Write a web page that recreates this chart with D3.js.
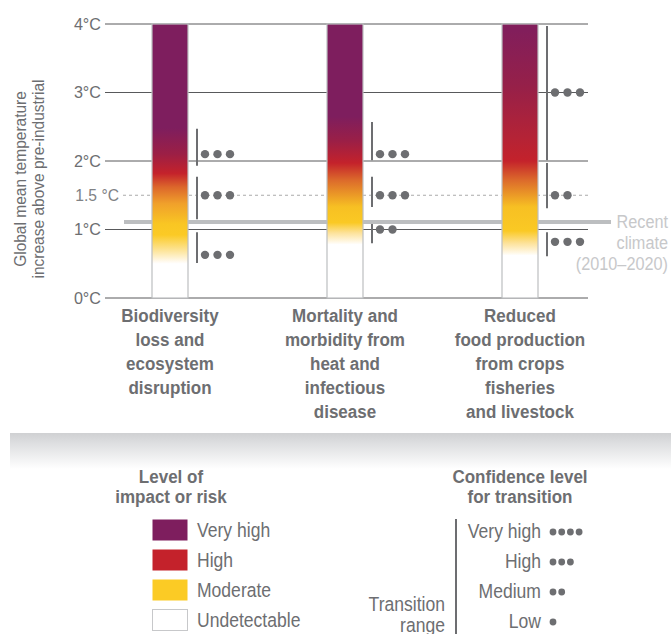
<!DOCTYPE html>
<html>
<head>
<meta charset="utf-8">
<script src="https://cdn.jsdelivr.net/npm/d3@7"></script>
<style>
  body { margin: 0; background: #fff; }
  svg { display: block; font-family: "Liberation Sans", Arial, sans-serif; }
</style>
</head>
<body>
<svg id="chart" width="671" height="634"></svg>
<script>
const W = 671
const H = 634
const TEXT = '#6d6e71'

// data
const categories = [
  ['Biodiversity', 'loss and', 'ecosystem', 'disruption'],
  ['Mortality and', 'morbidity from', 'heat and', 'infectious', 'disease'],
  ['Reduced', 'food production', 'from crops', 'fisheries', 'and livestock'],
]
const ticks = [0, 1, 2, 3, 4]
const tickLabels = ['0°C', '1°C', '2°C', '3°C', '4°C']
const PARIS = 1.5
const RECENT = 1.11

// colour stops [temperature, colour] per bar
const barStops = [
  [[0.5, '#ffffff'], [0.53, '#fffaf0'], [0.68, '#fde6a0'], [0.92, '#fbca25'], [1.08, '#f9c623'],
   [1.38, '#f0a02b'], [1.62, '#dc662b'], [1.82, '#c4222b'], [2.1, '#9c1f45'], [2.48, '#7e1e5e'], [4, '#7e1e5e']],
  [[0.78, '#ffffff'], [0.82, '#fff8e6'], [0.95, '#fde29a'], [1.1, '#fac924'], [1.33, '#f7c023'],
   [1.72, '#dc6a2b'], [1.97, '#c4222b'], [2.3, '#9a1f47'], [2.65, '#7e1e5e'], [4, '#7e1e5e']],
  [[0.62, '#ffffff'], [0.66, '#fff8e6'], [0.8, '#fde29a'], [0.98, '#fac924'], [1.33, '#f7c023'],
   [1.72, '#dc6a2b'], [2.0, '#c4222b'], [2.35, '#b42336'], [3.1, '#962049'], [3.9, '#821e5b'], [4, '#821e5b']],
]

// transition ranges: [bar, from, to, dotTemp, dots]
const transitions = [
  [0, 1.93, 2.47, 2.1, 3], [0, 1.15, 1.77, 1.5, 3], [0, 0.51, 0.96, 0.63, 3],
  [1, 2.01, 2.57, 2.1, 3], [1, 1.33, 1.77, 1.5, 3], [1, 0.80, 1.08, 1.0, 2],
  [2, 2.01, 3.97, 3.0, 3], [2, 1.31, 1.97, 1.5, 2], [2, 0.61, 0.96, 0.82, 3],
]

const riskLevels = ['Very high', 'High', 'Moderate', 'Undetectable']
const riskColors = ['#7e1e5e', '#c4222b', '#fbcb25', '#ffffff']
const confLevels = ['Very high', 'High', 'Medium', 'Low']
const confDots = [4, 3, 2, 1]

const svg = d3.select('#chart')
const defs = svg.append('defs')

const y = d3.scaleLinear().domain([0, 4]).range([298, 24])
const x = d3.scalePoint().domain(d3.range(categories.length)).range([170, 520])
const BAR_W = 36
const AXIS_X0 = 105
const AXIS_X1 = 588

// the original type is a condensed face: squeeze text horizontally round its anchor x
function squeeze(sel, cx, k, pre = '') {
  sel.attr('transform', `${pre} translate(${cx},0) scale(${k},1) translate(${-cx},0)`)
}

// y axis title
svg.append('text')
  .attr('text-anchor', 'middle')
  .attr('fill', TEXT)
  .style('font-size', '16.5px')
  .call(squeeze, 0, 0.94, 'translate(26,179) rotate(-90)')
  .selectAll('tspan')
  .data(['Global mean temperature', 'increase above pre-industrial'])
  .join('tspan')
  .attr('x', 0)
  .attr('dy', (d, i) => i ? 18 : 0)
  .text(d => d)

// grid lines + labels
const grid = svg.append('g')
grid.selectAll('line')
  .data(ticks)
  .join('line')
  .attr('x1', AXIS_X0).attr('x2', AXIS_X1)
  .attr('y1', d => y(d)).attr('y2', d => y(d))
  .attr('stroke', '#58595b').attr('stroke-width', 1)
grid.selectAll('text')
  .data(ticks)
  .join('text')
  .attr('x', 101)
  .attr('y', d => y(d) + 6)
  .attr('text-anchor', 'end')
  .attr('fill', TEXT)
  .style('font-size', '17px')
  .call(squeeze, 101, 0.95)
  .text((d, i) => tickLabels[i])

// 1.5 line
svg.append('line')
  .attr('x1', 123).attr('x2', AXIS_X1)
  .attr('y1', y(PARIS)).attr('y2', y(PARIS))
  .attr('stroke', '#aaaaaa').attr('stroke-width', 1)
  .attr('stroke-dasharray', '3,3')
svg.append('text')
  .attr('x', 119).attr('y', y(PARIS) + 6)
  .attr('text-anchor', 'end')
  .attr('fill', '#808285')
  .style('font-size', '16.5px')
  .call(squeeze, 119, 0.95)
  .text('1.5 °C')

// recent climate
svg.append('line')
  .attr('x1', 124).attr('x2', 611)
  .attr('y1', y(RECENT)).attr('y2', y(RECENT))
  .attr('stroke', '#bcbec0').attr('stroke-width', 4)
svg.append('text')
  .attr('text-anchor', 'end')
  .attr('fill', '#c7c8ca')
  .style('font-size', '17.5px')
  .call(squeeze, 668, 0.93)
  .selectAll('tspan')
  .data(['Recent', 'climate', '(2010–2020)'])
  .join('tspan')
  .attr('x', 668)
  .attr('y', (d, i) => 228 + i * 21)
  .text(d => d)

// gradients + bars
barStops.forEach((stops, i) => {
  const g = defs.append('linearGradient')
    .attr('id', 'grad' + i)
    .attr('gradientUnits', 'userSpaceOnUse')
    .attr('x1', 0).attr('x2', 0)
    .attr('y1', y(0)).attr('y2', y(4))
  g.selectAll('stop')
    .data(stops)
    .join('stop')
    .attr('offset', d => d[0] / 4)
    .attr('stop-color', d => d[1])
})

svg.append('g').selectAll('rect')
  .data(categories)
  .join('rect')
  .attr('x', (d, i) => x(i) - BAR_W / 2)
  .attr('y', y(4))
  .attr('width', BAR_W)
  .attr('height', y(0) - y(4))
  .attr('fill', (d, i) => `url(#grad${i})`)
  .attr('stroke', '#bcbec0')
  .attr('stroke-width', 1.2)

// transition ranges
const tr = svg.append('g').selectAll('g')
  .data(transitions)
  .join('g')
  .attr('transform', d => `translate(${x(d[0]) + BAR_W / 2 + 9},0)`)
tr.append('line')
  .attr('x1', 0).attr('x2', 0)
  .attr('y1', d => y(d[2])).attr('y2', d => y(d[1]))
  .attr('stroke', '#6d6e71').attr('stroke-width', 2)
tr.selectAll('circle')
  .data(d => d3.range(d[4]).map(k => ({ k, t: d[3] })))
  .join('circle')
  .attr('cx', d => 8 + d.k * 12.5)
  .attr('cy', d => y(d.t))
  .attr('r', 4.2)
  .attr('fill', '#6d6e71')

// category labels
svg.append('g').selectAll('text')
  .data(categories)
  .join('text')
  .attr('text-anchor', 'middle')
  .attr('fill', TEXT)
  .style('font-size', '18.5px')
  .style('font-weight', 'bold')
  .each(function(lines, i) {
    d3.select(this).call(squeeze, x(i), 0.92)
      .selectAll('tspan')
      .data(lines)
      .join('tspan')
      .attr('x', x(i))
      .attr('y', (d, j) => 322 + j * 24)
      .text(d => d)
  })

// separator band
const band = defs.append('linearGradient')
  .attr('id', 'band').attr('x1', 0).attr('x2', 0).attr('y1', 0).attr('y2', 1)
band.append('stop').attr('offset', 0).attr('stop-color', '#cfd0d2')
band.append('stop').attr('offset', 0.25).attr('stop-color', '#dcdddf')
band.append('stop').attr('offset', 1).attr('stop-color', '#ffffff')
svg.append('rect')
  .attr('x', 10).attr('y', 433)
  .attr('width', W - 10).attr('height', 36)
  .attr('fill', 'url(#band)')

// legend: level of impact
const leg1 = svg.append('g')
leg1.append('text')
  .attr('text-anchor', 'middle')
  .attr('fill', TEXT)
  .style('font-size', '18.5px')
  .style('font-weight', 'bold')
  .call(squeeze, 171, 0.92)
  .selectAll('tspan')
  .data(['Level of', 'impact or risk'])
  .join('tspan')
  .attr('x', 171)
  .attr('y', (d, i) => 483 + i * 20)
  .text(d => d)
const item1 = leg1.selectAll('g')
  .data(riskLevels)
  .join('g')
  .attr('transform', (d, i) => `translate(152,${519 + i * 30})`)
item1.append('rect')
  .attr('x', 0.5).attr('y', 0.5)
  .attr('width', 35).attr('height', 21)
  .attr('fill', (d, i) => riskColors[i])
  .attr('stroke', (d, i) => i === 3 ? '#c7c8ca' : 'none')
item1.append('text')
  .attr('x', 45).attr('y', 18)
  .attr('fill', TEXT)
  .style('font-size', '19.5px')
  .call(squeeze, 45, 0.9)
  .text(d => d)

// legend: confidence
const leg2 = svg.append('g')
leg2.append('text')
  .attr('text-anchor', 'middle')
  .attr('fill', TEXT)
  .style('font-size', '18.5px')
  .style('font-weight', 'bold')
  .call(squeeze, 520, 0.92)
  .selectAll('tspan')
  .data(['Confidence level', 'for transition'])
  .join('tspan')
  .attr('x', 520)
  .attr('y', (d, i) => 483 + i * 20)
  .text(d => d)
leg2.append('line')
  .attr('x1', 456).attr('x2', 456)
  .attr('y1', 519).attr('y2', 634)
  .attr('stroke', '#6d6e71').attr('stroke-width', 2)
leg2.append('text')
  .attr('text-anchor', 'end')
  .attr('fill', TEXT)
  .style('font-size', '19.5px')
  .call(squeeze, 445, 0.9)
  .selectAll('tspan')
  .data(['Transition', 'range'])
  .join('tspan')
  .attr('x', 445)
  .attr('y', (d, i) => 611 + i * 21)
  .text(d => d)
const item2 = leg2.selectAll('g')
  .data(confLevels)
  .join('g')
  .attr('transform', (d, i) => `translate(0,${538 + i * 30})`)
item2.append('text')
  .attr('x', 541)
  .attr('text-anchor', 'end')
  .attr('fill', TEXT)
  .style('font-size', '19.5px')
  .call(squeeze, 541, 0.9)
  .text(d => d)
item2.selectAll('circle')
  .data((d, i) => d3.range(confDots[i]))
  .join('circle')
  .attr('cx', k => 553 + k * 8.7)
  .attr('cy', -6)
  .attr('r', 3.4)
  .attr('fill', '#6d6e71')
</script>
</body>
</html>
